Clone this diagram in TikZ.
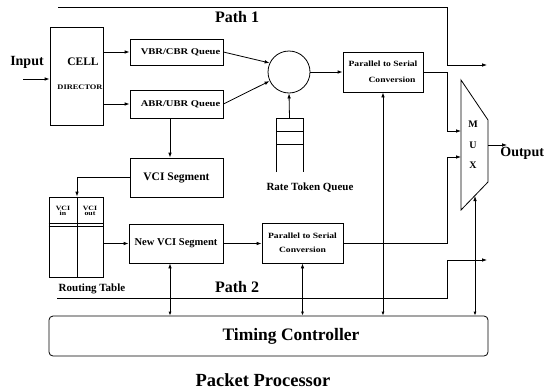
\documentclass[tikz,border=0pt]{standalone}
\usepackage{fontspec}
\setmainfont{Liberation Serif}
\newfontfamily\wf{Liberation Serif}[FakeStretch=1.2]
\usetikzlibrary{arrows.meta}
\begin{document}
\begin{tikzpicture}[x=1pt,y=-1pt,line width=0.8pt,
  box/.style={draw,line width=0.8pt,inner sep=0pt},
  arr/.style={-{Latex[length=5pt,width=3.6pt]}},
  darr/.style={{Latex[length=4pt,width=3pt]}-{Latex[length=5pt,width=3.6pt]}},
  fs/.style={font=\fontsize{#1}{#1}\selectfont\bfseries},
  ws/.style={font=\wf\fontsize{#1}{#1}\selectfont\bfseries}]
\useasboundingbox (0,0) rectangle (545,391);

% boxes
\node[box,minimum width=53pt,minimum height=98pt] (cd) at (76.5,76) {};
\node[fs=11.5] (cell) at (83,62) {CELL};
\node[ws=7,inner sep=0pt] (dir) at (80,87) {DIRECTOR};
\node[box,minimum width=93pt,minimum height=26pt,ws=8.8] (vbr) at (176.5,52) {\hspace{8pt}VBR/CBR Queue};
\node[box,minimum width=93pt,minimum height=28pt,ws=8.8] (abr) at (176.5,104) {\hspace{8pt}ABR/UBR Queue};
\node[box,minimum width=93pt,minimum height=39pt,fs=11.5] (vcis) at (176.5,177.5) {VCI Segment};
\node[box,minimum width=54pt,minimum height=80pt] (rt) at (76,237) {};
\draw ([xshift=1pt]rt.north) -- ([xshift=1pt]rt.south);
\draw (rt.west |- 0,223) -- (rt.east |- 0,223);
\draw (rt.west |- 0,226) -- (rt.east |- 0,226);
\node[ws=6.5,align=center,inner sep=0pt] (vin) at (63,211) {VCI\\[-1pt]in};
\node[ws=6.5,align=center,inner sep=0pt] (vout) at (90,211) {VCI\\[-1pt]out};
\node[fs=11] (rtl) at (92,289) {Routing Table};
\node[box,minimum width=94pt,minimum height=39pt,fs=10.5] (nvci) at (176,243.5) {New VCI Segment};
\node[box,minimum width=81pt,minimum height=40pt,font=\wf\fontsize{8}{14}\selectfont\bfseries,align=center] (ps2) at (302.5,243) {Parallel to Serial\\Conversion};
\node[box,minimum width=80pt,minimum height=40pt,font=\wf\fontsize{8}{16}\selectfont\bfseries,align=center] (ps1) at (383,72) {Parallel to Serial\\\hspace{18pt}Conversion};
\node[draw,circle,minimum size=42pt,inner sep=0pt] (rs) at (289,72) {};

% rate token queue stack
\coordinate (stk) at (289.5,118);
\draw (276,172) -- (276,118) -- (303,118) -- (303,172);
\draw (276,131) -- (303,131);
\draw (276,144) -- (303,144);
\node[fs=11] (rtq) at (310,188) {Rate Token Queue};

% MUX
\coordinate (mtl) at (461,80);
\coordinate (mtr) at (488,120);
\coordinate (mbr) at (488,182);
\coordinate (mbl) at (461,210);
\draw (mtl) -- (mtr) -- (mbr) -- (mbl) -- cycle;
\node[fs=10] (mm) at (473,124) {M};
\node[fs=10] (mu) at (473,145) {U};
\node[fs=10] (mx) at (473,165) {X};
\coordinate (m1) at (461,131);
\coordinate (m2) at (461,157);
\coordinate (mb) at (475,196);
\coordinate (mo) at (488,145);
\coordinate (oe) at (507,145);
\node[fs=14,anchor=west,inner sep=0pt] (out) at (500,153) {Output};

% timing controller
\node[draw,rounded corners=4pt,minimum width=439pt,minimum height=40pt] (tc) at (268.5,336) {};
\node[fs=17.5] (tct) at (291,336) {Timing Controller};
\node[fs=18.5] (pp) at (263,380) {Packet Processor};

% input
\node[fs=14] (inp) at (27,62) {Input};
\coordinate (ins) at (23,79);
\draw[arr] (ins) -- (ins -| cd.west);

% paths
\coordinate (bx) at (447,0);
\coordinate (p1s) at (58,7);
\coordinate (p1e) at (487,65);
\coordinate (p2s) at (57,298);
\coordinate (p2e) at (487,260);
\node[fs=16] (pl1) at (237,17) {Path 1};
\node[fs=16] (pl2) at (237,287) {Path 2};
\draw[arr] (p1s) -- (p1s -| bx) |- (p1e);
\draw[arr] (p2s) -- (p2s -| bx) |- (p2e);

% connectors
\draw[arr] (cd.east |- vbr.west) -- (vbr.west);
\draw[arr] (cd.east |- abr.west) -- (abr.west);
\draw[arr] (vbr.east) -- (rs.155);
\draw[arr] (abr.east) -- (rs.205);
\draw[arr] (stk) -- (rs.south);
\draw[arr] (rs.east) -- (ps1.west);
\draw[arr] ([xshift=-6.5pt]abr.south) -- ([xshift=-6.5pt]vcis.north);
\draw[arr] ([yshift=0.5pt]vcis.west) -| ([xshift=1pt]rt.north);
\draw[arr] (rt.east |- nvci.west) -- (nvci.west);
\draw[arr] (nvci.east) -- (nvci.east -| ps2.west);
\draw[arr] (ps1.east) -- (ps1.east -| bx) |- (m1);
\draw[arr] (ps2.east) -- (ps2.east -| bx) |- (m2);
\draw[arr] (mo) -- (oe);
\draw[darr] ([xshift=-6pt]nvci.south |- tc.north) -- ([xshift=-6pt]nvci.south);
\draw[darr] (ps2.south |- tc.north) -- (ps2.south);
\draw[darr] (ps1.south |- tc.north) -- (ps1.south);
\draw[darr] (mb |- tc.north) -- (mb);
\end{tikzpicture}
\end{document}
